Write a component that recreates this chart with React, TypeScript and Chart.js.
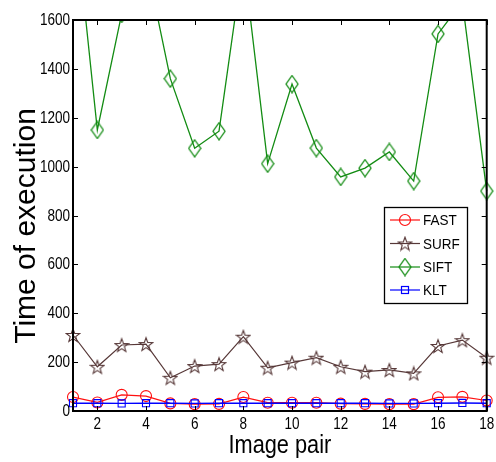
import React, { useEffect, useRef } from 'react';
import { Chart, registerables } from 'chart.js';

Chart.register(...registerables);

const pairs = [1, 2, 3, 4, 5, 6, 7, 8, 9, 10, 11, 12, 13, 14, 15, 16, 17, 18];
const fastTimes = [57, 35, 66, 61, 31, 28, 29, 57, 34, 34, 34, 30, 29, 28, 28, 56, 58, 43];
const surfTimes = [311, 181, 270, 274, 136, 184, 192, 304, 177, 198, 218, 181, 161, 168, 154, 266, 290, 218];
const siftTimes = [2100, 1150, 1625, 1840, 1360, 1075, 1145, 1850, 1012, 1338, 1076, 958, 994, 1060, 941, 1543, 1675, 900];
const kltTimes = [32, 32, 31, 32, 32, 31, 32, 32, 32, 32, 32, 32, 32, 31, 31, 32, 33, 32];
const xTickValues = [2, 4, 6, 8, 10, 12, 14, 16, 18];
const yTickValues = [0, 200, 400, 600, 800, 1000, 1200, 1400, 1600];
const seriesNames = ['FAST', 'SURF', 'SIFT', 'KLT'];

const REGULAR = '"Liberation Sans", Arial, sans-serif';

const COLORS = {
  fast: '#ff1010',
  surf: '#573838',
  sift: '#138c13',
  klt: '#0000ff',
};

function makeStar(color: string): HTMLCanvasElement {
  const c = document.createElement('canvas');
  c.width = 16;
  c.height = 16;
  const g = c.getContext('2d')!;
  g.strokeStyle = color;
  g.lineWidth = 1.1;
  g.beginPath();
  for (let i = 0; i < 10; i++) {
    const r = i % 2 === 0 ? 7 : 2.9;
    const a = -Math.PI / 2 + (i * Math.PI) / 5;
    const px = 8 + r * Math.cos(a);
    const py = 8.7 + r * Math.sin(a);
    if (i === 0) g.moveTo(px, py);
    else g.lineTo(px, py);
  }
  g.closePath();
  g.stroke();
  return c;
}

function makeDiamond(color: string): HTMLCanvasElement {
  const c = document.createElement('canvas');
  c.width = 14;
  c.height = 19;
  const g = c.getContext('2d')!;
  g.strokeStyle = color;
  g.lineWidth = 1.3;
  g.beginPath();
  g.moveTo(7, 1);
  g.lineTo(13, 9.5);
  g.lineTo(7, 18);
  g.lineTo(1, 9.5);
  g.closePath();
  g.stroke();
  return c;
}

function narrowText(
  ctx: CanvasRenderingContext2D,
  text: string,
  x: number,
  y: number,
  align: CanvasTextAlign,
  baseline: CanvasTextBaseline,
  size: number,
  sx: number
) {
  ctx.save();
  ctx.translate(x, y);
  ctx.scale(sx, 1);
  ctx.font = `${size}px ${REGULAR}`;
  ctx.textAlign = align;
  ctx.textBaseline = baseline;
  ctx.fillText(text, 0, 0);
  ctx.restore();
}

export default function App() {
  const canvasRef = useRef<HTMLCanvasElement | null>(null);

  useEffect(() => {
    const canvas = canvasRef.current;
    if (!canvas) return;
    const star = makeStar(COLORS.surf);
    const diamond = makeDiamond(COLORS.sift);

    const pts = (vals: number[]) => pairs.map((p, i) => ({ x: p, y: vals[i] }));
    const clip = { left: 10, right: 10, top: 0, bottom: 10 };

    const framePlugin = {
      id: 'frame',
      afterDraw(chart: any) {
        const { ctx, chartArea } = chart;
        const { left, right, top, bottom } = chartArea;
        const xs = chart.scales.x;
        const ys = chart.scales.y;
        ctx.save();
        // frame
        ctx.strokeStyle = '#000';
        ctx.lineWidth = 2;
        ctx.strokeRect(left, top, right - left, bottom - top);
        // inward ticks
        ctx.lineWidth = 1;
        ctx.beginPath();
        for (const v of xTickValues) {
          const px = Math.round(xs.getPixelForValue(v)) + 0.5;
          ctx.moveTo(px, bottom);
          ctx.lineTo(px, bottom - 5);
          ctx.moveTo(px, top);
          ctx.lineTo(px, top + 5);
        }
        for (const v of yTickValues) {
          const py = Math.round(ys.getPixelForValue(v)) + 0.5;
          ctx.moveTo(left, py);
          ctx.lineTo(left + 5, py);
          ctx.moveTo(right, py);
          ctx.lineTo(right - 5, py);
        }
        ctx.stroke();

        // tick labels
        ctx.fillStyle = '#000';
        for (const v of xTickValues) {
          narrowText(ctx, String(v), xs.getPixelForValue(v), 424, 'center', 'middle', 16.5, 0.82);
        }
        for (const v of yTickValues) {
          narrowText(ctx, String(v), left - 3, ys.getPixelForValue(v) + 0.5, 'right', 'middle', 16.5, 0.82);
        }

        // axis titles
        narrowText(ctx, 'Image pair', (left + right) / 2, 453, 'center', 'alphabetic', 25, 0.87);

        ctx.save();
        ctx.translate(35, 226);
        ctx.rotate(-Math.PI / 2);
        ctx.font = `30px ${REGULAR}`;
        ctx.textAlign = 'center';
        ctx.textBaseline = 'alphabetic';
        ctx.fillText('Time of execution', 0, 0);
        ctx.restore();

        // legend
        const bx = 384;
        const by = 207;
        const bw = 83;
        const bh = 96;
        ctx.fillStyle = '#fff';
        ctx.fillRect(bx, by, bw, bh);
        ctx.strokeStyle = '#000';
        ctx.lineWidth = 1.3;
        ctx.strokeRect(bx + 0.5, by + 0.5, bw, bh);
        const rows = [220, 243.5, 267, 290];
        const cols = [COLORS.fast, COLORS.surf, COLORS.sift, COLORS.klt];
        rows.forEach((ry, i) => {
          ctx.strokeStyle = cols[i];
          ctx.lineWidth = 1.2;
          ctx.beginPath();
          ctx.moveTo(390, ry);
          ctx.lineTo(420, ry);
          ctx.stroke();
          const mx = 405;
          if (i === 0) {
            ctx.beginPath();
            ctx.arc(mx, ry, 5.5, 0, Math.PI * 2);
            ctx.stroke();
          } else if (i === 1) {
            ctx.drawImage(star, mx - star.width / 2, ry - star.height / 2);
          } else if (i === 2) {
            ctx.drawImage(diamond, mx - diamond.width / 2, ry - diamond.height / 2);
          } else {
            ctx.strokeRect(mx - 3.5, ry - 3.5, 7, 7);
          }
          ctx.fillStyle = '#000';
          narrowText(ctx, seriesNames[i], 423, ry + 1, 'left', 'middle', 15, 0.9);
        });
        ctx.restore();
      },
    };

    const chart = new Chart(canvas, {
      type: 'line',
      data: {
        datasets: [
          {
            label: seriesNames[0],
            data: pts(fastTimes),
            borderColor: COLORS.fast,
            backgroundColor: 'rgba(0,0,0,0)',
            borderWidth: 1.2,
            pointStyle: 'circle',
            pointRadius: 5.5,
            pointBorderWidth: 1.1,
            pointBorderColor: COLORS.fast,
            pointBackgroundColor: 'rgba(0,0,0,0)',
            clip,
            order: 1,
          },
          {
            label: seriesNames[1],
            data: pts(surfTimes),
            borderColor: COLORS.surf,
            backgroundColor: 'rgba(0,0,0,0)',
            borderWidth: 1.2,
            pointStyle: star as any,
            pointRadius: 7,
            clip,
            order: 2,
          },
          {
            label: seriesNames[2],
            data: pts(siftTimes),
            borderColor: COLORS.sift,
            backgroundColor: 'rgba(0,0,0,0)',
            borderWidth: 1.3,
            pointStyle: diamond as any,
            pointRadius: 8,
            clip,
            order: 3,
          },
          {
            label: seriesNames[3],
            data: pts(kltTimes),
            borderColor: COLORS.klt,
            backgroundColor: 'rgba(0,0,0,0)',
            borderWidth: 1.4,
            pointStyle: 'rect',
            pointRadius: 5,
            pointBorderWidth: 1.1,
            pointBorderColor: COLORS.klt,
            pointBackgroundColor: 'rgba(0,0,0,0)',
            clip,
            order: 0,
          },
        ],
      },
      options: {
        responsive: false,
        animation: false,
        events: [],
        layout: { padding: { left: 0, right: 5, top: 20, bottom: 0 } },
        plugins: {
          legend: { display: false },
          tooltip: { enabled: false },
        },
        scales: {
          x: {
            type: 'linear',
            min: 1,
            max: 18,
            grid: { display: false, drawTicks: false },
            border: { display: false },
            ticks: { display: false },
            afterBuildTicks: (scale: any) => {
              scale.ticks = xTickValues.map((v) => ({ value: v }));
            },
            afterFit: (scale: any) => {
              scale.height = 51;
              scale.paddingLeft = 0;
              scale.paddingRight = 0;
            },
          },
          y: {
            type: 'linear',
            min: 0,
            max: 1600,
            grid: { display: false, drawTicks: false },
            border: { display: false },
            ticks: { display: false },
            afterBuildTicks: (scale: any) => {
              scale.ticks = yTickValues.map((v) => ({ value: v }));
            },
            afterFit: (scale: any) => {
              scale.width = 73;
              scale.paddingTop = 0;
              scale.paddingBottom = 0;
            },
          },
        },
      } as any,
      plugins: [framePlugin],
    });

    return () => {
      chart.destroy();
    };
  }, []);

  return (
    <div style={{ position: 'absolute', left: 0, top: 0, width: 496, height: 462, background: '#fff' }}>
      <canvas ref={canvasRef} width={496} height={462} style={{ display: 'block', width: 496, height: 462 }} />
    </div>
  );
}
